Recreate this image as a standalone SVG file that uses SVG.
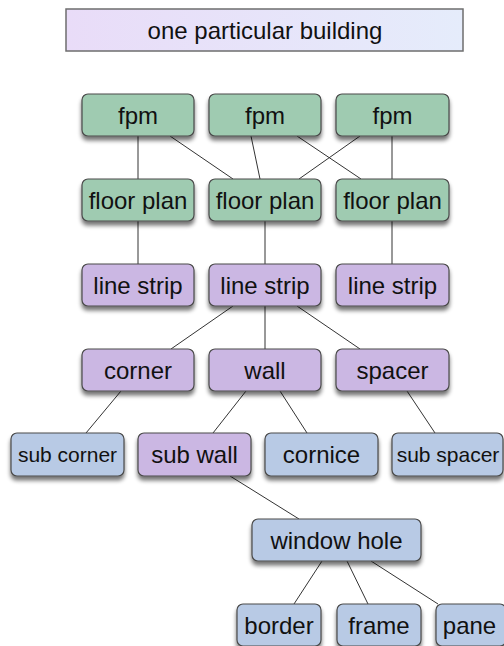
<svg xmlns="http://www.w3.org/2000/svg" width="504" height="646" viewBox="0 0 504 646">
<defs>
<linearGradient id="topg" x1="0" y1="0" x2="1" y2="0">
<stop offset="0" stop-color="#e9dcf8"/>
<stop offset="1" stop-color="#e5ecfb"/>
</linearGradient>
<filter id="sh" x="-10%" y="-20%" width="120%" height="160%">
<feGaussianBlur in="SourceAlpha" stdDeviation="2.2"/>
<feOffset dx="0" dy="3.5" result="b"/>
<feComponentTransfer><feFuncA type="linear" slope="0.55"/></feComponentTransfer>
<feMerge><feMergeNode/><feMergeNode in="SourceGraphic"/></feMerge>
</filter>
</defs>
<style>
.n rect{stroke:#4a4a4a;stroke-width:1.2;filter:url(#sh)}
.g rect{fill:#9fcbb1}
.p rect{fill:#cbb7e3}
.b rect{fill:#b8cae5}
text{font-family:"Liberation Sans",Arial,sans-serif;font-size:24px;fill:#111;text-anchor:middle}
.sm{font-size:21px}
#edges line{stroke:#333;stroke-width:1}
</style>
<rect width="504" height="646" fill="#fff"/>
<g id="edges">
<line x1="138" y1="136" x2="138" y2="179"/>
<line x1="170" y1="136" x2="233" y2="179"/>
<line x1="251" y1="136" x2="260" y2="179"/>
<line x1="297" y1="136" x2="361" y2="179"/>
<line x1="360" y1="136" x2="299" y2="179"/>
<line x1="392" y1="136" x2="392" y2="179"/>
<line x1="138" y1="221" x2="138" y2="264"/>
<line x1="265" y1="221" x2="265" y2="264"/>
<line x1="392" y1="221" x2="392" y2="264"/>
<line x1="233" y1="306" x2="171" y2="349"/>
<line x1="265" y1="306" x2="265" y2="349"/>
<line x1="297" y1="306" x2="360" y2="349"/>
<line x1="121" y1="391" x2="86" y2="433"/>
<line x1="246" y1="391" x2="213" y2="433"/>
<line x1="280" y1="391" x2="307" y2="433"/>
<line x1="407" y1="391" x2="435" y2="433"/>
<line x1="230" y1="476" x2="299" y2="519"/>
<line x1="322" y1="561" x2="294" y2="604"/>
<line x1="347" y1="561" x2="368" y2="604"/>
<line x1="371" y1="561" x2="438" y2="604"/>
</g>
<g id="top">
<rect x="66" y="9" width="397" height="42" fill="url(#topg)" stroke="#6e6e6e" stroke-width="1.5"/>
<text x="265" y="38.5">one particular building</text>
</g>
<g id="fpm1" class="n g"><rect x="82" y="94" width="112" height="42" rx="6"/><text x="138" y="123.5">fpm</text></g>
<g id="fpm2" class="n g"><rect x="209" y="94" width="112" height="42" rx="6"/><text x="265" y="123.5">fpm</text></g>
<g id="fpm3" class="n g"><rect x="336" y="94" width="113" height="42" rx="6"/><text x="392.5" y="123.5">fpm</text></g>
<g id="fp1" class="n g"><rect x="82" y="179" width="112" height="42" rx="6"/><text x="138" y="208.5">floor plan</text></g>
<g id="fp2" class="n g"><rect x="209" y="179" width="112" height="42" rx="6"/><text x="265" y="208.5">floor plan</text></g>
<g id="fp3" class="n g"><rect x="336" y="179" width="113" height="42" rx="6"/><text x="392.5" y="208.5">floor plan</text></g>
<g id="ls1" class="n p"><rect x="82" y="264" width="112" height="42" rx="6"/><text x="138" y="293.5">line strip</text></g>
<g id="ls2" class="n p"><rect x="209" y="264" width="112" height="42" rx="6"/><text x="265" y="293.5">line strip</text></g>
<g id="ls3" class="n p"><rect x="336" y="264" width="113" height="42" rx="6"/><text x="392.5" y="293.5">line strip</text></g>
<g id="corner" class="n p"><rect x="82" y="349" width="112" height="42" rx="6"/><text x="138" y="378.5">corner</text></g>
<g id="wall" class="n p"><rect x="209" y="349" width="112" height="42" rx="6"/><text x="265" y="378.5">wall</text></g>
<g id="spacer" class="n p"><rect x="336" y="349" width="113" height="42" rx="6"/><text x="392.5" y="378.5">spacer</text></g>
<g id="subcorner" class="n b"><rect x="11" y="433" width="113" height="43" rx="6"/><text class="sm" x="67.5" y="462">sub corner</text></g>
<g id="subwall" class="n p"><rect x="138" y="433" width="113" height="43" rx="6"/><text x="194.5" y="463">sub wall</text></g>
<g id="cornice" class="n b"><rect x="265" y="433" width="113" height="43" rx="6"/><text x="321.5" y="463">cornice</text></g>
<g id="subspacer" class="n b"><rect x="392" y="433" width="111" height="43" rx="6"/><text class="sm" x="448" y="462">sub spacer</text></g>
<g id="windowhole" class="n b"><rect x="252" y="519" width="169" height="42" rx="6"/><text x="336.5" y="548.5">window hole</text></g>
<g id="border" class="n b"><rect x="237" y="604" width="84" height="42" rx="6"/><text x="279" y="633.5">border</text></g>
<g id="frame" class="n b"><rect x="337" y="604" width="84" height="42" rx="6"/><text x="379" y="633.5">frame</text></g>
<g id="pane" class="n b"><rect x="436" y="604" width="70" height="42" rx="6"/><text x="469.5" y="633.5">pane</text></g>
</svg>
